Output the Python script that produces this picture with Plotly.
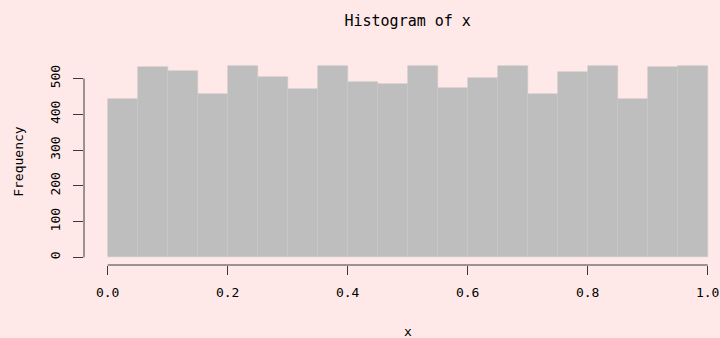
import plotly.graph_objects as go

bin_edges = [i * 0.05 for i in range(21)]
counts = [442, 533, 520, 456, 534, 505, 470, 535, 489, 486,
          536, 474, 501, 536, 458, 518, 536, 442, 533, 535]
x_ticks = [0.0, 0.2, 0.4, 0.6, 0.8, 1.0]
y_ticks = [0, 100, 200, 300, 400, 500]

centers = [(bin_edges[i] + bin_edges[i + 1]) / 2 for i in range(len(counts))]
widths = [bin_edges[i + 1] - bin_edges[i] for i in range(len(counts))]

BG = "#FFE8E8"
FONT = "DejaVu Sans Mono, monospace"
AX = "#3a3a3a"

fig = go.Figure()
fig.add_trace(go.Bar(x=centers, y=counts, width=widths,
                     marker=dict(color="#BEBEBE", line=dict(color="#C9C9C9", width=0.6)),
                     hoverinfo="skip"))

W, H = 720, 338
ml, mr, mt, mb = 84, 0, 58, 73
fig.update_layout(
    width=W, height=H,
    margin=dict(l=ml, r=mr, t=mt, b=mb, pad=0),
    paper_bgcolor=BG, plot_bgcolor=BG,
    showlegend=False, bargap=0,
    font=dict(family=FONT, color="#000000", size=13),
    title=dict(text="Histogram of x", x=407.7 / W, xref="container", xanchor="center",
               y=1 - 21 / H, yref="container", yanchor="middle",
               font=dict(family=FONT, size=15, color="#000000")),
    xaxis=dict(range=[(ml - 107.7) / 600, (W - 107.7) / 600], showgrid=False, zeroline=False,
               showline=False, ticks="outside", ticklen=9, tickcolor=AX, tickwidth=1,
               tickvals=x_ticks, ticktext=["%.1f" % v for v in x_ticks],
               ticklabeloverflow="allow", ticklabelstandoff=6,
               tickfont=dict(family=FONT, size=13)),
    yaxis=dict(range=[-21.4, 557.4], showgrid=False, zeroline=False, showline=False,
               ticks="outside", ticklen=10, tickcolor=AX, tickwidth=1,
               tickvals=y_ticks, ticktext=[str(v) for v in y_ticks], tickangle=-90,
               ticklabelstandoff=8, tickfont=dict(family=FONT, size=13)),
)

# R-style axis lines spanning only first to last tick
fig.add_shape(type="line", xref="x", yref="paper", x0=x_ticks[0], x1=x_ticks[-1], y0=0, y1=0,
              line=dict(color=AX, width=1))
fig.add_shape(type="line", xref="paper", yref="y", x0=0, x1=0, y0=y_ticks[0], y1=y_ticks[-1],
              line=dict(color=AX, width=1))

plot_w = W - ml - mr
fig.add_annotation(text="Frequency", xref="paper", yref="paper", x=(18.3 - ml) / plot_w, y=0.5,
                   textangle=-90, showarrow=False, xanchor="center", yanchor="middle",
                   font=dict(family=FONT, size=13))
fig.add_annotation(text="x", xref="paper", yref="paper", x=(407.7 - ml) / plot_w,
                   y=-(331 - (H - mb)) / (H - mt - mb), showarrow=False,
                   xanchor="center", yanchor="middle", font=dict(family=FONT, size=13))

fig.write_html("out.html")
